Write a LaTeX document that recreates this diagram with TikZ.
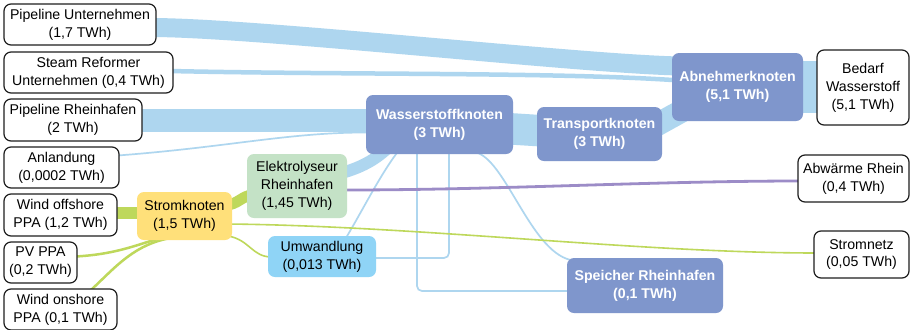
\documentclass[tikz,border=0pt]{standalone}
\usepackage{fontspec}
\setmainfont{Liberation Sans}
\usetikzlibrary{calc}
\pgfdeclarelayer{back}
\pgfdeclarelayer{flows}
\pgfsetlayers{back,flows,main}

\definecolor{hubfill}{HTML}{7F96CC}
\definecolor{hflow}{HTML}{AED6EF}
\definecolor{pflow}{HTML}{BED85B}
\definecolor{heatflow}{HTML}{9C8CC7}
\definecolor{powerfill}{HTML}{FFE07A}
\definecolor{elyfill}{HTML}{C4E2C6}
\definecolor{convfill}{HTML}{8FD4F6}
\definecolor{edge}{HTML}{1E1E1E}

\tikzset{
  lbl/.style={font=\fontsize{14.2}{18}\selectfont, align=center, inner sep=0pt, rounded corners=7bp},
  ext/.style={lbl, draw=edge, line width=1.2bp, fill=white, text=black},
  hub/.style={lbl, fill=hubfill, text=white, font=\fontsize{14.2}{18}\selectfont\bfseries},
  dims/.style 2 args={minimum width=#1bp, minimum height=#2bp},
  hband/.style={draw=hflow, line width=#1bp},
  pband/.style={draw=pflow, line width=#1bp},
}

\begin{document}
\begin{tikzpicture}[x=1bp,y=-1bp]
\useasboundingbox (0,0) rectangle (912,329);
\begin{pgfonlayer}{back}
  \fill[white] (0,0) rectangle (912,329);
\end{pgfonlayer}

% sources
\node[ext, dims={152}{41}] (pu)  at (80,24.5)   {Pipeline Unternehmen\\(1,7 TWh)};
\node[ext, dims={169}{41}] (sr)  at (88.5,72.5) {Steam Reformer\\Unternehmen (0,4 TWh)};
\node[ext, dims={138}{42}] (pr)  at (73,120)    {Pipeline Rheinhafen\\(2 TWh)};
\node[ext, dims={115}{41}] (an)  at (61.5,167.5){Anlandung\\(0,0002 TWh)};
\node[ext, dims={113}{42}] (wof) at (60.5,215)  {Wind offshore\\PPA (1,2 TWh)};
\node[ext, dims={73}{41}]  (pv)  at (40.5,262.5){PV PPA\\(0,2 TWh)};
\node[ext, dims={113}{41}] (won) at (60.5,309.5){Wind onshore\\PPA (0,1 TWh)};

% intermediate nodes
\node[lbl, fill=powerfill, dims={95}{48}]  (sk) at (184.5,216) {Stromknoten\\(1,5 TWh)};
\node[lbl, fill=elyfill,   dims={100}{64}] (el) at (297,186)   {Elektrolyseur\\Rheinhafen\\(1,45 TWh)};
\node[lbl, fill=convfill,  dims={108}{41}] (um) at (322,256.5) {Umwandlung\\(0,013 TWh)};
\node[hub, dims={147}{59}] (wk) at (439.5,124.5) {Wasserstoffknoten\\(3 TWh)};
\node[hub, dims={125}{54}] (tk) at (599.5,134)   {Transportknoten\\(3 TWh)};
\node[hub, dims={131}{68}] (ak) at (737.5,87)    {Abnehmerknoten\\(5,1 TWh)};
\node[hub, dims={156}{55}] (sp) at (645,285.5)   {Speicher Rheinhafen\\(0,1 TWh)};

% sinks
\node[ext, dims={92}{75}]  (bw) at (863,87.5)   {Bedarf\\Wasserstoff\\(5,1 TWh)};
\node[ext, dims={111}{47}] (ar) at (853.5,178.5){Abwärme Rhein\\(0,4 TWh)};
\node[ext, dims={95}{47}]  (sn) at (861.5,254.5){Stromnetz\\(0,05 TWh)};

\begin{pgfonlayer}{flows}
  % hydrogen bands
  \draw[hband=19] ($(pu.east)+(-4,3)$) .. controls (260,28) and (580,64) .. ($(ak.west)+(8,-21)$);
  \draw[hband=4.5] ($(sr.east)+(-4,-1.5)$) .. controls (350,75) and (560,72) .. ($(ak.west)+(8,-6.5)$);
  \draw[hband=23] ($(pr.east)+(-4,0)$) -- ($(wk.west)+(4,-4.5)$);
  \draw[hband=1.7] ($(an.east)+(-2,-12)$) .. controls (230,147) and (290,132) .. ($(wk.west)+(4,8)$);
  \draw[hband=12] ($(el.east)+(-6,-13)$) .. controls (360,168) and (375,160) .. ($(wk.south)+(-52,-6)$);
  \draw[hband=31.5] ($(wk.east)+(-8,4)$) -- ($(tk.west)+(8,-3)$);
  \draw[hband=23] ($(tk.east)+(-22,0)$) -- ($(ak.west)+(28,14)$);
  \draw[hband=52] ($(ak.east)+(-4,0)$) -- ($(bw.west)+(4,-0.5)$);
  % hydrogen lines below the hub
  \draw[hband=1.7] ($(wk.south)+(-42,-2)$) .. controls (380,175) and (360,215) .. ($(um.north)+(24,2)$);
  \draw[hband=1.7, rounded corners=5bp] ($(wk.south)+(9.5,-2)$) |- ($(um.east)+(-2,1.5)$);
  \draw[hband=1.7, rounded corners=5bp] ($(wk.south)+(-22.5,-2)$) |- ($(sp.west)+(2,5.5)$);
  \draw[hband=1.7] ($(wk.south)+(35.5,-2)$) .. controls (505,158) and (530,250) .. ($(sp.north)+(-75,2)$);
  % power
  \draw[pband=12] ($(wof.east)+(-3,-2.5)$) -- ($(sk.west)+(3,-3.5)$);
  \draw[pband=2.5] ($(pv.east)+(-2,-6)$) .. controls (120,254) and (140,243) .. ($(sk.south)+(-20,-3)$);
  \draw[pband=2.5] ($(won.north)+(30,2)$) .. controls (115,268) and (135,242) .. ($(sk.south)+(-8,-3)$);
  \draw[pband=11] ($(sk.east)+(-6,-11)$) .. controls (237,205) and (243,195) .. ($(el.west)+(6,9)$);
  \draw[pband=1.6] ($(sk.east)+(-4,8)$) .. controls (420,226) and (640,253) .. ($(sn.west)+(4,-1.5)$);
  \draw[pband=1.6] ($(sk.east)+(-4,20)$) .. controls (250,240) and (252,257) .. ($(um.west)+(4,0.5)$);
  % waste heat
  \draw[draw=heatflow, line width=2.8bp] ($(el.east)+(-4,4)$) .. controls (500,190) and (650,181) .. ($(ar.west)+(4,2.5)$);
\end{pgfonlayer}
\end{tikzpicture}
\end{document}
